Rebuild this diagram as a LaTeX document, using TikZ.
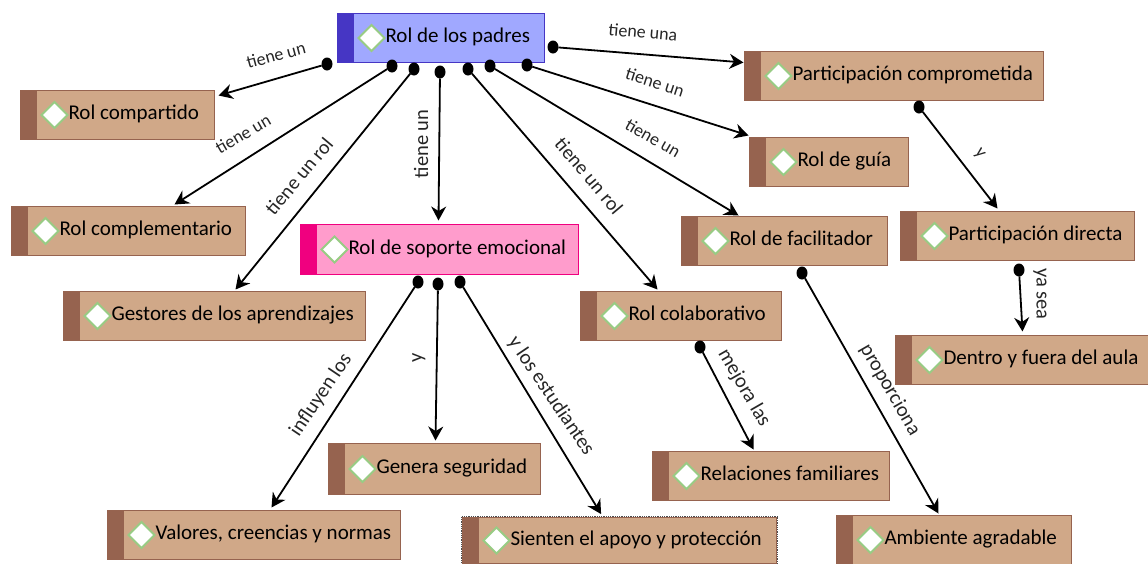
\documentclass[tikz,border=0pt]{standalone}
\usepackage{fontspec}
\setmainfont{Carlito}
\usetikzlibrary{arrows.meta,calc,fit,shapes.geometric}
\definecolor{brownfill}{HTML}{D0A888}
\definecolor{brownbar}{HTML}{96634F}
\definecolor{bluefill}{HTML}{A0A8FF}
\definecolor{bluebar}{HTML}{4636C4}
\definecolor{pinkfill}{HTML}{FF9CCC}
\definecolor{pinkbar}{HTML}{F0007F}
\definecolor{gemgreen}{HTML}{98CC84}
\tikzset{
  concept/.style n args={3}{draw=#3,fill=#2,line width=1.5pt,anchor=north west,
    minimum height=49pt,inner xsep=0pt,inner ysep=0pt,outer sep=0pt,
    xshift=.5pt,yshift=-.5pt,text height=14pt,text depth=5pt,
    text width=#1,align=flush left,font=\fontsize{21}{24}\selectfont,
    execute at begin node=\hspace*{48pt},
    path picture={
      \fill [#3] (path picture bounding box.north west) rectangle
        ($(path picture bounding box.south west)+(16,0)$) ;
      \draw [gemgreen,fill=white,line width=2pt]
        ($(path picture bounding box.west)+(21,0)$) -- ++(13,-13) -- ++(13,13)
        -- ++(-13,13) -- cycle ;
    }},
  brownbox/.style={concept={#1}{brownfill}{brownbar}},
  dot/.style={ellipse,fill=black,inner sep=0pt,minimum width=11pt,minimum height=13pt,outer sep=0pt},
  link/.style={line width=1.8pt,-{Stealth[length=14pt,width=15pt]}},
  lab/.style={inner sep=0pt,font=\fontsize{18}{20}\selectfont,text=black!85},
  labwide/.style={lab,font=\fontsize{20}{22}\selectfont},
  labsteep/.style={lab,font=\fontsize{20.5}{22}\selectfont},
}
\begin{document}
\begin{tikzpicture}[x=1pt,y=-1pt]
\useasboundingbox (0,0) rectangle (1148,563) ;
%
  \node [concept={207pt}{bluefill}{bluebar}] (padres) at (337,13) {Rol de los padres} ;
  \node [concept={278pt}{pinkfill}{pinkbar},minimum height=50pt] (soporte) at (300,224) {Rol de soporte emocional} ;
  \node [brownbox=194pt] (compartido) at (20,90) {Rol compartido} ;
  \node [brownbox=234pt] (complementario) at (11,206) {Rol complementario} ;
  \node [brownbox=302pt] (gestores) at (63,291) {Gestores de los aprendizajes} ;
  \node [brownbox=201pt] (colaborativo) at (580,291) {Rol colaborativo} ;
  \node [brownbox=206pt] (facilitador) at (681,216) {Rol de facilitador} ;
  \node [brownbox=159pt] (guia) at (749,137) {Rol de guía} ;
  \node [brownbox=299pt] (comprometida) at (744,51) {Participación comprometida} ;
  \node [brownbox=234pt] (directa) at (900,211) {Participación directa} ;
  \node [brownbox=253pt] (dentro) at (895,335) {Dentro y fuera del aula} ;
  \node [brownbox=235pt] (ambiente) at (836,515) {Ambiente agradable} ;
  \node [brownbox=237pt] (relaciones) at (652,451) {Relaciones familiares} ;
  \node [brownbox=293pt] (valores) at (107,510) {Valores, creencias y normas} ;
  \node [brownbox=212pt,minimum height=51pt] (genera) at (328,443) {Genera seguridad} ;
  \node [brownbox=314pt,minimum height=46pt] (sienten) at (462,517) {Sienten el apoyo y protección} ;
  \node [fit=(sienten),draw=black!70,densely dotted,line width=.8pt,inner sep=1pt] (marco) {} ;
%
  \node [dot] (d1) at (327,64) {} ;
  \node [dot] (d2) at (392,66) {} ;
  \node [dot] (d3) at (414,69) {} ;
  \node [dot] (d4) at (440,72) {} ;
  \node [dot] (d5) at (468,69) {} ;
  \node [dot] (d6) at (490,66) {} ;
  \node [dot] (d7) at (527,65) {} ;
  \node [dot] (d8) at (553,47) {} ;
  \node [dot] (d9) at (919,107) {} ;
  \node [dot] (d10) at (1019,270) {} ;
  \node [dot] (d11) at (802,273) {} ;
  \node [dot] (d12) at (700,347) {} ;
  \node [dot] (d13) at (418,282) {} ;
  \node [dot] (d14) at (438,284) {} ;
  \node [dot] (d15) at (460,282) {} ;
%
  \draw [link] (d1) -- ($(compartido.north east)+(4,5)$) ;
  \draw [link] (d2) -- ($(complementario.north west)+(163,-2)$) ;
  \draw [link] (d3) -- ($(gestores.north west)+(172,-2)$) ;
  \draw [link] (d4) -- ($(soporte.north west)+(138,-4)$) ;
  \draw [link] (d5) -- ($(colaborativo.north west)+(77,-2)$) ;
  \draw [link] (d6) -- ($(facilitador.north west)+(57,-1)$) ;
  \draw [link] (d7) -- ($(guia.north west)+(-1,-2)$) ;
  \draw [link] (d8) -- ($(comprometida.north west)+(-1,11)$) ;
  \draw [link] (d9) -- ($(directa.north west)+(97,-3)$) ;
  \draw [link] (d10) -- ($(dentro.north west)+(127,-4)$) ;
  \draw [link] (d11) -- ($(ambiente.north west)+(102,-2)$) ;
  \draw [link] (d12) -- ($(relaciones.north west)+(101,-2)$) ;
  \draw [link] (d13) -- ($(valores.north west)+(164,-3)$) ;
  \draw [link] (d14) -- ($(genera.north west)+(107,-3)$) ;
  \draw [link] (d15) -- ($(marco.north west)+(140,-2)$) ;
%
  \node [lab,rotate=15] (l1) at (276,55) {tiene un} ;
  \node [lab,rotate=30] (l2) at (243,134) {tiene un} ;
  \node [labwide,rotate=50] (l3) at (299,176) {tiene un rol} ;
  \node [labsteep,rotate=90] (l4) at (421,144) {tiene un} ;
  \node [labwide,rotate=-50] (l5) at (589,176) {tiene un rol} ;
  \node [lab,rotate=-30] (l6) at (653,138) {tiene un} ;
  \node [lab,rotate=-18] (l7) at (655,82) {tiene un} ;
  \node [lab,rotate=-5] (l8) at (643,32) {tiene una} ;
  \node [lab,rotate=-52] (l9) at (979,154) {y} ;
  \node [labsteep,rotate=-90] (l10) at (1040,294) {ya sea} ;
  \node [labsteep,rotate=-60] (l11) at (890,390) {proporciona} ;
  \node [labsteep,rotate=-60] (l12) at (744,388) {mejora las} ;
  \node [labsteep,rotate=56] (l13) at (321,395) {influyen los} ;
  \node [labsteep,rotate=90] (l14) at (419,358) {y} ;
  \node [labsteep,rotate=-56] (l15) at (551,396) {y los estudiantes} ;

\end{tikzpicture}
\end{document}
